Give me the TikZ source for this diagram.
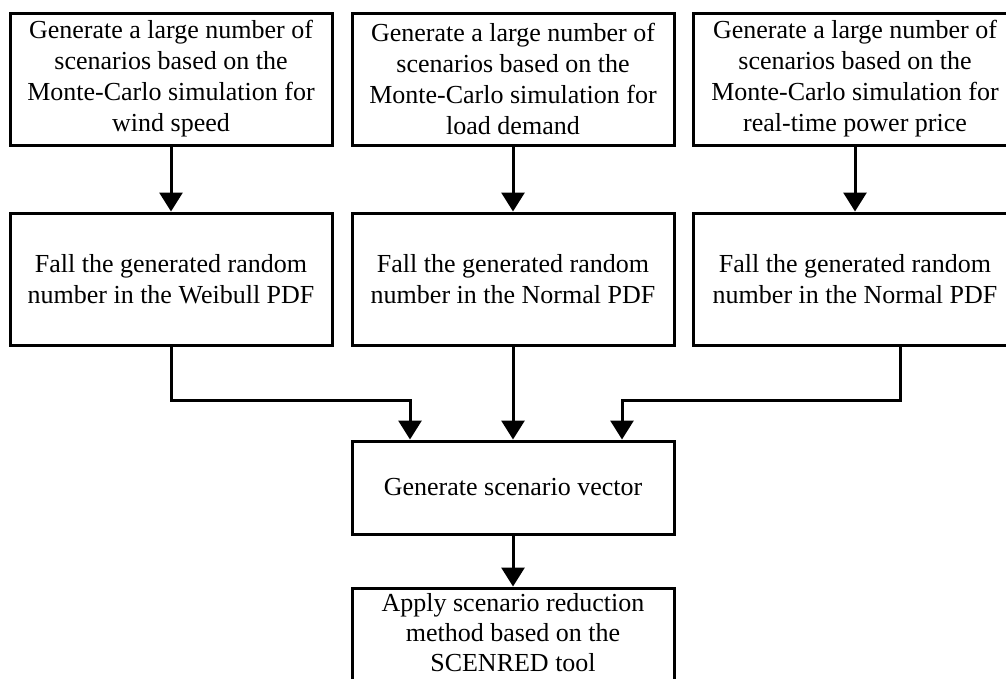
\documentclass[tikz,border=0pt]{standalone}
\usepackage{fontspec}
\setmainfont{Liberation Serif}
\usetikzlibrary{arrows.meta}
\begin{document}
\begin{tikzpicture}[x=1pt,y=-1pt,
  box/.style={draw, line width=3pt, align=center, inner sep=0pt,
    font=\fontsize{26}{31}\selectfont},
  topbox/.style={box, minimum height=132pt},
  frame/.style={line width=3pt},
  conn/.style={line width=3pt, -{Triangle[width=23pt,length=19pt]}}]
\useasboundingbox (0,0) rectangle (1006,678);
% top row
\node[topbox, minimum width=322pt] (t1) at (171,79)
  {Generate a large number of\\scenarios based on the\\Monte-Carlo simulation for\\wind speed};
\node[topbox, minimum width=322pt] (t2) at (513,79)
  {Generate a large number of\\scenarios based on the\\Monte-Carlo simulation for\\load demand};
\node[topbox, minimum width=324pt] (t3) at (855,79)
  {Generate a large number of\\scenarios based on the\\Monte-Carlo simulation for\\real-time power price};
% middle row
\node[topbox, minimum width=322pt] (m1) at (171,279)
  {Fall the generated random\\number in the Weibull PDF};
\node[topbox, minimum width=322pt] (m2) at (513,279)
  {Fall the generated random\\number in the Normal PDF};
\node[topbox, minimum width=324pt] (m3) at (855,279)
  {Fall the generated random\\number in the Normal PDF};
% lower boxes
\node[box, minimum width=322pt, minimum height=93pt] (sv) at (513,487.5)
  {Generate scenario vector};
\node[box, draw=none, outer sep=0pt, minimum width=322pt, minimum height=90pt, font=\fontsize{26}{30}\selectfont] (red) at (513,633)
  {Apply scenario reduction\\method based on the\\SCENRED tool};
\draw[frame] ([yshift=-20pt]red.south west) -- (red.north west) -- (red.north east) -- ([yshift=-20pt]red.south east);
% connectors
\draw[conn] (t1) -- (m1);
\draw[conn] (t2) -- (m2);
\draw[conn] (t3) -- (m3);
\coordinate (j1) at (410,400);
\coordinate (j3) at (622,400);
\coordinate (d3) at (900,400);
\draw[conn] (m1.south) |- (j1) -- (j1 |- sv.north);
\draw[conn] (m2) -- (sv);
\draw[conn] (m3.south -| d3) -- (d3) -- (j3) -- (j3 |- sv.north);
\draw[conn] (sv) -- ([yshift=1.5pt]red.north);
\end{tikzpicture}
\end{document}
